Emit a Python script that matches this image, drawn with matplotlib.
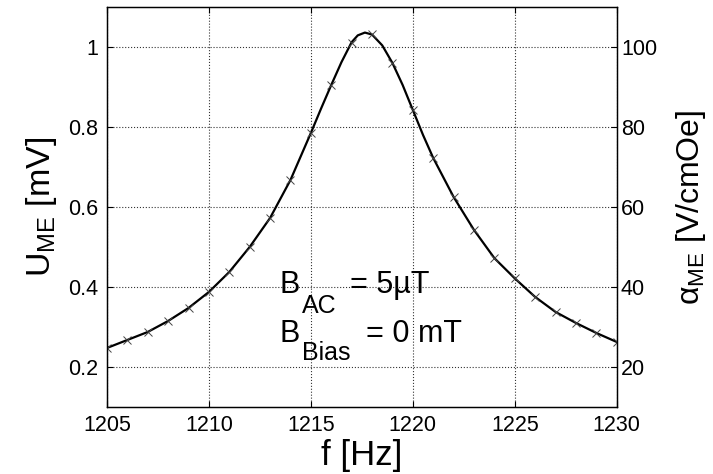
import matplotlib
matplotlib.use("Agg")
import matplotlib.pyplot as plt

plt.rcParams["font.family"] = ["Liberation Sans", "DejaVu Sans"]
plt.rcParams["mathtext.fontset"] = "custom"
plt.rcParams["mathtext.rm"] = "Liberation Sans"
plt.rcParams["mathtext.it"] = "Liberation Sans:italic"

# measured points (markers), f in Hz, U_ME in mV
freq = [1205, 1206, 1207, 1208, 1209, 1210, 1211, 1212, 1213, 1214, 1215, 1216, 1217,
        1218, 1219, 1220, 1221, 1222, 1223, 1224, 1225, 1226, 1227, 1228, 1229, 1230]
u_me = [0.2475, 0.2675, 0.2875, 0.315, 0.3475, 0.3875, 0.4375, 0.500, 0.5725, 0.6675,
        0.785, 0.905, 1.010, 1.032, 0.960, 0.8425, 0.7225, 0.625, 0.5425, 0.472,
        0.4215, 0.375, 0.3375, 0.310, 0.285, 0.2625]

# fitted curve, read a bit denser around the resonance
freq_fit = [1205, 1206, 1207, 1208, 1209, 1210, 1211, 1212, 1213, 1214, 1215, 1215.5,
            1216, 1216.5, 1217, 1217.3, 1217.65, 1218, 1218.5, 1219, 1219.5, 1220, 1220.5,
            1221, 1222, 1223, 1224, 1225, 1226, 1227, 1228, 1229, 1230]
u_fit = [0.2475, 0.2675, 0.2875, 0.315, 0.3475, 0.3875, 0.4375, 0.500, 0.5725, 0.6675,
         0.785, 0.846, 0.905, 0.962, 1.012, 1.029, 1.036, 1.031, 1.004, 0.960, 0.905,
         0.8425, 0.780, 0.7225, 0.625, 0.5425, 0.472, 0.4215, 0.375, 0.3375, 0.310,
         0.285, 0.2625]

xticks = [1205, 1210, 1215, 1220, 1225, 1230]
yticks = [0.2, 0.4, 0.6, 0.8, 1.0]
yticklabels = ["0.2", "0.4", "0.6", "0.8", "1"]
rticks = [20, 40, 60, 80, 100]

W, H = 713, 474
fig = plt.figure(figsize=(W / 100, H / 100), dpi=100)
ax = fig.add_axes([0.150, 0.1414, 0.715, 0.8439])

ax.plot(freq_fit, u_fit, color="black", lw=1.6, zorder=3)
ax.plot(freq, u_me, ls="none", marker="x", ms=6, mew=0.7, color="#444444", zorder=4)

ax.set_xlim(1205, 1230)
ax.set_ylim(0.1, 1.1)
ax.set_xticks(xticks)
ax.set_yticks(yticks)
ax.set_yticklabels(yticklabels)
ax.grid(True, ls=":", color="black", lw=0.8, alpha=0.8)
ax.tick_params(direction="in", top=True, right=False, labelsize=15.5, pad=6, length=4)
ax.set_xlabel("f [Hz]", fontsize=25, labelpad=2)
ax.set_ylabel(r"U$_{\mathrm{ME}}$ [mV]", fontsize=24.5, labelpad=7)

ax2 = ax.twinx()
ax2.set_ylim(10, 110)
ax2.set_yticks(rticks)
ax2.tick_params(direction="in", labelsize=15.5, pad=3, length=4)
ax2.set_ylabel(r"$\mathrm{\alpha}_{\mathrm{ME}}$ [V/cmOe]", fontsize=23, labelpad=12)

for a in (ax, ax2):
    for s in a.spines.values():
        s.set_linewidth(0.9)

# annotation, MATLAB-style big subscripts, placed in pixel positions
def ptext(x, y, s, size):
    fig.text(x / W, 1 - y / H, s, fontsize=size, va="baseline", ha="left")

ptext(280, 293, "B", 22)
ptext(302, 313, "AC", 18)
ptext(350, 293, "= 5µT", 22)
ptext(280, 342, "B", 22)
ptext(302, 360, "Bias", 18)
ptext(366, 342, "= 0 mT", 22)

fig.savefig("out.png", dpi=100)
